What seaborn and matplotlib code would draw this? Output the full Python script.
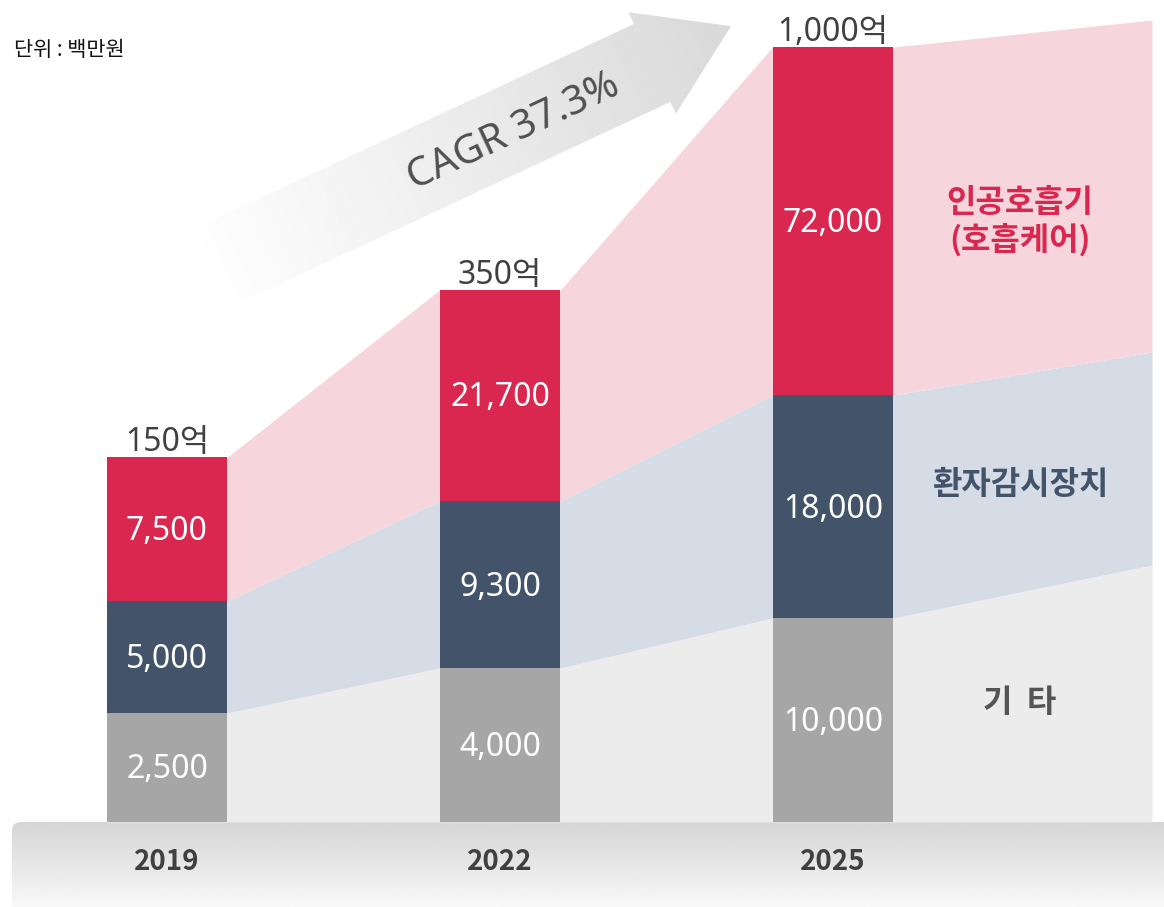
import numpy as np
import pandas as pd
import matplotlib
matplotlib.use("Agg")
import matplotlib.pyplot as plt
import seaborn as sns
from matplotlib.patches import Polygon, FancyBboxPatch

# ---------------- data ----------------
years = ["2019", "2022", "2025"]
others_val = [2500, 4000, 10000]        # 기타
monitor_val = [5000, 9300, 18000]       # 환자감시장치
vent_val = [7500, 21700, 72000]         # 인공호흡기(호흡케어)
total_labels = ["150억", "350억", "1,000억"]
# segment heights as drawn in the (stylised) picture
others_h = [109, 154, 204]
monitor_h = [112, 167, 223]
vent_h = [144, 211, 348]
# band heights at the right edge of the picture
band_end_h = [257, 213, 332]
series_names = ["인공호흡기", "(호흡케어)", "환자감시장치", "기  타"]
unit_text = "단위 : 백만원"
cagr_text = "CAGR 37.3%"

# ---------------- style ----------------
sns.set_theme(style="white")
plt.rcParams["font.family"] = ["Noto Sans CJK KR", "DejaVu Sans"]
LAT = ["Noto Sans", "Noto Sans CJK KR", "DejaVu Sans"]

RED, NAVY, GRAY = "#D92750", "#43536A", "#A6A6A6"
PINK_B, BLUE_B, GRAY_B = "#F6D5DC", "#D5DCE6", "#ECECEC"
DARK = "#404040"

W, H = 1164, 907
fig = plt.figure(figsize=(W / 100, H / 100), dpi=100)

# decoration axes in pixel coordinates
deco = fig.add_axes([0, 0, 1, 1])
deco.set_xlim(0, W)
deco.set_ylim(H, 0)
deco.axis("off")

# main data axes
ax = fig.add_axes([0, 0, 1, 1])
ax.patch.set_alpha(0)

df = pd.DataFrame({"year": years, "others": others_h,
                   "monitor": monitor_h, "vent": vent_h})
df["c1"] = df["others"]
df["c2"] = df["c1"] + df["monitor"]
df["c3"] = df["c2"] + df["vent"]

bw = 0.363
# bands
xs, b1, b2, b3 = [], [], [], []
for i in range(len(years)):
    for dx in (-bw / 2, bw / 2):
        xs.append(i + dx)
        b1.append(df["c1"][i]); b2.append(df["c2"][i]); b3.append(df["c3"][i])
x_end = 2.958
xs.append(x_end)
e1 = band_end_h[0]; e2 = e1 + band_end_h[1]; e3 = e2 + band_end_h[2]
b1.append(e1); b2.append(e2); b3.append(e3)
xs, b1, b2, b3 = map(np.array, (xs, b1, b2, b3))
ax.fill_between(xs, 0, b1, color=GRAY_B, lw=0, zorder=1)
ax.fill_between(xs, b1, b2, color=BLUE_B, lw=0, zorder=1)
ax.fill_between(xs, b2, b3, color=PINK_B, lw=0, zorder=1)

# stacked bars (drawn as overlapping cumulative bars)
for col, c in (("c3", RED), ("c2", NAVY), ("c1", GRAY)):
    sns.barplot(data=df, x="year", y=col, color=c, saturation=1, width=bw,
                errorbar=None, ax=ax, zorder=3, linewidth=0)

# labels in segments
for i in range(len(years)):
    segs = [(0, df["c1"][i], others_val[i]),
            (df["c1"][i], df["c2"][i], monitor_val[i]),
            (df["c2"][i], df["c3"][i], vent_val[i])]
    for lo, hi, v in segs:
        ax.text(i, (lo + hi) / 2 - 11, f"{v:,}", ha="center", va="baseline",
                color="white", fontsize=23, family=LAT, zorder=5)
    ax.text(i, df["c3"][i] + 6, total_labels[i], ha="center", va="baseline",
            color=DARK, fontsize=23, family=LAT, zorder=5)
    ax.text(i, -48, years[i], ha="center", va="baseline", color=DARK,
            fontsize=20, fontweight="bold", zorder=5)

# series names on right
xr = 2.5616
ax.text(xr, 619, series_names[0], ha="center", va="center", color=RED,
        fontsize=23, fontweight="bold", zorder=5)
ax.text(xr, 582, series_names[1], ha="center", va="center", color=RED,
        fontsize=23, fontweight="bold", zorder=5)
ax.text(xr, 337, series_names[2], ha="center", va="center", color=NAVY,
        fontsize=23, fontweight="bold", zorder=5)
ax.text(xr, 119, series_names[3], ha="center", va="center", color="#555555",
        fontsize=23, fontweight="bold", zorder=5)

ax.set_xlim(-167 / 333, (W - 167) / 333)
ax.set_ylim(-85, 822)
ax.axis("off")

# ---------------- floor (gradient rounded rect) ----------------
floor = FancyBboxPatch((12, 822), W - 12 + 20, 120,
                       boxstyle="round,pad=0,rounding_size=9",
                       transform=deco.transData, facecolor="none", edgecolor="none")
deco.add_patch(floor)
grad = np.linspace(0.835, 0.975, 100).reshape(-1, 1)
im = deco.imshow(np.repeat(grad, 2, axis=1), cmap="gray", vmin=0, vmax=1,
                 extent=[12, W, 907, 822], aspect="auto", zorder=0.5,
                 interpolation="bilinear")
im.set_clip_path(floor)
deco.set_xlim(0, W)
deco.set_ylim(H, 0)

# ---------------- arrow ----------------
O = np.array([213.5, 267.5])
th = np.deg2rad(25.0)
u = np.array([np.cos(th), -np.sin(th)])
n = np.array([np.sin(th), np.cos(th)])
L, Lh, sw, hw = 571, 484, 43, 56
pts_un = [(0, -sw), (Lh, -sw), (Lh, -hw), (L, 0), (Lh, hw), (Lh, sw), (0, sw)]
pts = [O + a * u + b * n for a, b in pts_un]
arrow = Polygon(pts, closed=True, transform=deco.transData,
                facecolor="none", edgecolor="none")
deco.add_patch(arrow)
gx = np.linspace(180, 750, 400)
gy = np.linspace(0, 320, 240)
GX, GY = np.meshgrid(gx, gy)
t = ((GX - O[0]) * u[0] + (GY - O[1]) * u[1]) / L
t = np.clip(t, 0, 1)
level = 0.995 - 0.145 * t
aim = deco.imshow(level, cmap="gray", vmin=0, vmax=1,
                  extent=[180, 750, 320, 0], aspect="auto", zorder=0.6,
                  interpolation="bilinear")
aim.set_clip_path(arrow)
deco.set_xlim(0, W)
deco.set_ylim(H, 0)
deco.text(514, 132, cagr_text, rotation=25, rotation_mode="anchor",
          ha="center", va="center", color="#505050", fontsize=29,
          family=LAT, zorder=2)

# unit text
fig.text(14 / W, 1 - 50 / H, unit_text, ha="left", va="center",
         color="#111111", fontsize=15)

fig.savefig("out.png", dpi=100)
